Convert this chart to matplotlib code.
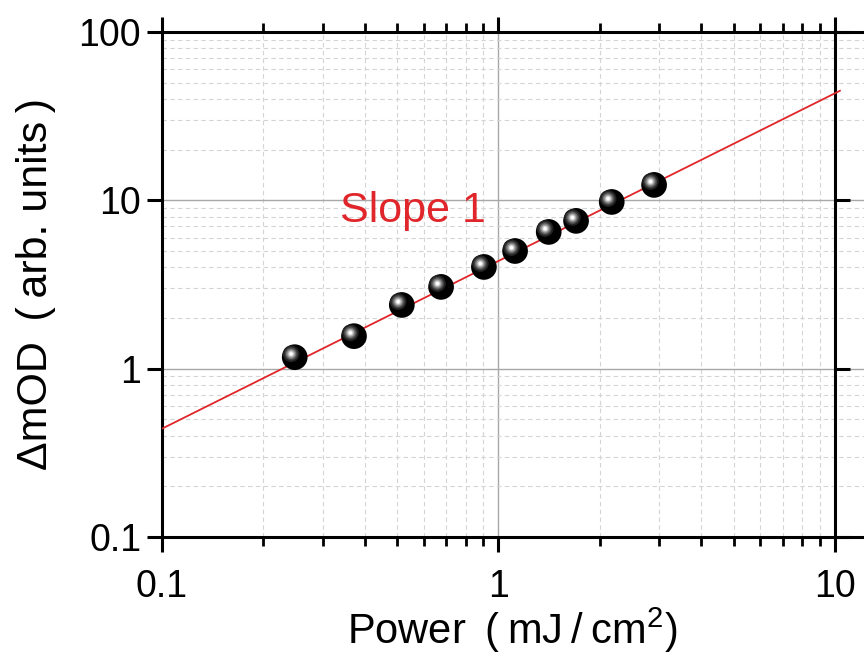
import matplotlib
matplotlib.use("Agg")
import matplotlib.pyplot as plt
from matplotlib.ticker import FixedLocator, NullFormatter, FixedFormatter
from matplotlib.transforms import offset_copy

# ---- data ----
power = [0.248, 0.372, 0.516, 0.675, 0.905, 1.12, 1.41, 1.70, 2.17, 2.90]
dmod = [1.17, 1.56, 2.39, 3.06, 4.02, 5.00, 6.49, 7.55, 9.78, 12.35]
fit_x = [0.1, 10.4]
fit_y = [0.44, 45.0]
xmajor = [0.1, 1, 10]
xmajor_labels = ["0.1", "1", "10"]
xminor = [0.2, 0.3, 0.4, 0.5, 0.6, 0.7, 0.8, 0.9, 2, 3, 4, 5, 6, 7, 8, 9]
ymajor = [0.1, 1, 10, 100]
ymajor_labels = ["0.1", "1", "10", "100"]
yminor = [v * d for d in (0.1, 1, 10) for v in (2, 3, 4, 5, 6, 7, 8, 9)]

plt.rcParams['font.family'] = ['Liberation Sans', 'DejaVu Sans']
plt.rcParams['mathtext.default'] = 'regular'

W, H = 864, 654
fig = plt.figure(figsize=(W / 100, H / 100), dpi=100)
left_px, right_px, top_px, bot_px = 162, 900, 32, 537
ax = fig.add_axes([left_px / W, 1 - bot_px / H, (right_px - left_px) / W, (bot_px - top_px) / H])
ax.set_xscale('log')
ax.set_yscale('log')
ax.set_xlim(0.1, 10 ** (-1 + (right_px - left_px) / 336.5))
ax.set_ylim(0.1, 100)

# grid
ax.xaxis.set_major_locator(FixedLocator(xmajor))
ax.xaxis.set_major_formatter(FixedFormatter(xmajor_labels))
ax.xaxis.set_minor_locator(FixedLocator(xminor))
ax.xaxis.set_minor_formatter(NullFormatter())
ax.yaxis.set_major_locator(FixedLocator(ymajor))
ax.yaxis.set_major_formatter(FixedFormatter(ymajor_labels))
ax.yaxis.set_minor_locator(FixedLocator(yminor))
ax.yaxis.set_minor_formatter(NullFormatter())
ax.grid(True, which='major', color='#a8a8a8', lw=1.0, ls='-')
ax.grid(True, which='minor', color='#d4d4d4', lw=0.8, ls=(0, (4, 3)))
ax.set_axisbelow(True)

for s in ax.spines.values():
    s.set_linewidth(2.2)
    s.set_color('black')
ax.spines['right'].set_position(('data', 10))

ax.tick_params(axis='both', which='major', direction='out', length=11, width=2.2,
               labelsize=27, colors='black')
ax.tick_params(axis='x', which='major', top=True, bottom=True, pad=12)
ax.tick_params(axis='x', which='minor', direction='out', length=6.5, width=2.0,
               top=True, bottom=True)
ax.tick_params(axis='y', which='major', left=True, right=True, labelright=False, pad=4)
ax.tick_params(axis='y', which='minor', length=0, left=False, right=False)

# fit line
ax.plot(fit_x, fit_y, color='#e0262a', lw=1.3, zorder=3, solid_capstyle='butt')

# shiny spheres
ax.scatter(power, dmod, s=18.5 ** 2, c='black', edgecolors='none', zorder=4)
hl = [(12, '#222222'), (9.5, '#464646'), (7.5, '#767676'), (5.6, '#a6a6a6'),
      (3.9, '#d8d8d8'), (2.4, '#ffffff')]
for size, col in hl:
    tr = offset_copy(ax.transData, fig=fig, x=-2.6, y=2.4, units='points')
    ax.scatter(power, dmod, s=size ** 2, c=col, edgecolors='none', zorder=5, transform=tr)

ax.text(0.338, 7.45, "Slope 1", color='#e0262a', fontsize=31, ha='left', va='baseline')

ax.set_xlabel("Power\u2009 (\u2009mJ\u2009/\u2009cm$^{2}$)", fontsize=30)
ax.set_ylabel("ΔmOD\u2009 (\u2009arb. units\u2009)", fontsize=31)
ax.xaxis.set_label_coords((512 - left_px) / (right_px - left_px), -(606 - bot_px) / (bot_px - top_px))
ax.yaxis.set_label_coords((56 - left_px) / (right_px - left_px), (bot_px - 284) / (bot_px - top_px))

fig.savefig("out.png", dpi=100)
